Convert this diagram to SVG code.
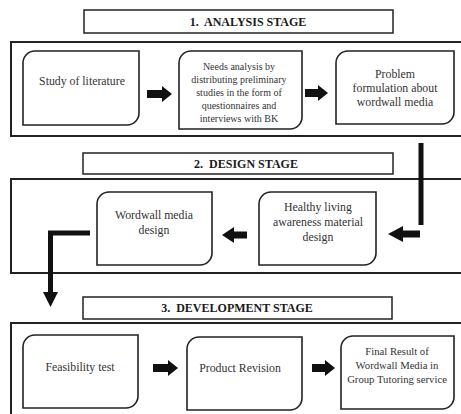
<svg xmlns="http://www.w3.org/2000/svg" width="461" height="414" viewBox="0 0 461 414">
<style>
.frame{fill:none;stroke:#222;stroke-width:2}
.title{fill:#fff;stroke:#222;stroke-width:1.5}
.box{fill:#fff;stroke:#222;stroke-width:1.6}
text{font-family:'Liberation Serif','Times New Roman',serif;text-anchor:middle}
.tt{font-weight:bold;font-size:12px;fill:#1a1a1a}
.t{font-size:11.8px;fill:#333}
.ts{font-size:10px;fill:#333}
.tm{font-size:10.7px;fill:#333}
.ar{fill:#111}
</style>
<rect width="461" height="414" fill="#fff"/>
<g id="stage1">
<rect class="title" x="84" y="10" width="309" height="23"/>
<text class="tt" x="248" y="26" xml:space="preserve">1.  ANALYSIS STAGE</text>
<rect class="frame" x="11" y="42" width="460" height="94"/>
</g>
<g id="stage2">
<rect class="title" x="83" y="153" width="310" height="21"/>
<text class="tt" x="246" y="168" xml:space="preserve">2.  DESIGN STAGE</text>
<rect class="frame" x="11" y="179" width="460" height="94"/>
</g>
<g id="stage3">
<rect class="title" x="83" y="297" width="309" height="22"/>
<text class="tt" x="237" y="312" xml:space="preserve">3.  DEVELOPMENT STAGE</text>
<rect class="frame" x="11" y="323" width="460" height="100"/>
</g>
<g id="n-study">
<path class="box" d="M35 51H139V113A12 12 0 0 1 127 125H23V63A12 12 0 0 1 35 51Z"/>
<text class="t" x="82" y="85">Study of literature</text>
</g>
<g id="n-needs">
<path class="box" d="M191 51H302V117A12 12 0 0 1 290 129H179V63A12 12 0 0 1 191 51Z"/>
<text class="ts" x="239" y="69.5">Needs analysis by</text>
<text class="ts" x="239" y="82.5">distributing preliminary</text>
<text class="ts" x="239" y="95.5">studies in the form of</text>
<text class="ts" x="239" y="108.5">questionnaires and</text>
<text class="ts" x="239" y="121.5">interviews with BK</text>
</g>
<g id="n-problem">
<path class="box" d="M348 51H454V112A12 12 0 0 1 442 124H336V63A12 12 0 0 1 348 51Z"/>
<text class="t" x="395" y="78">Problem</text>
<text class="t" x="395" y="92">formulation about</text>
<text class="t" x="395" y="106">wordwall media</text>
</g>
<g id="n-wordwall">
<path class="box" d="M109 192H212V253A12 12 0 0 1 200 265H97V204A12 12 0 0 1 109 192Z"/>
<text class="t" x="154" y="219">Wordwall media</text>
<text class="t" x="154" y="234">design</text>
</g>
<g id="n-healthy">
<path class="box" d="M271 192H376V253A12 12 0 0 1 364 265H259V204A12 12 0 0 1 271 192Z"/>
<text class="t" x="318" y="211">Healthy living</text>
<text class="t" x="318" y="226">awareness material</text>
<text class="t" x="318" y="241">design</text>
</g>
<g id="n-feasibility">
<path class="box" d="M35 335H138V396A12 12 0 0 1 126 408H23V347A12 12 0 0 1 35 335Z"/>
<text class="t" x="80" y="371">Feasibility test</text>
</g>
<g id="n-revision">
<path class="box" d="M199 337H302V398A12 12 0 0 1 290 410H187V349A12 12 0 0 1 199 337Z"/>
<text class="t" x="240" y="372">Product Revision</text>
</g>
<g id="n-final">
<path class="box" d="M353 336H454V397A12 12 0 0 1 442 409H341V348A12 12 0 0 1 353 336Z"/>
<text class="tm" x="397" y="355">Final Result of</text>
<text class="tm" x="397" y="369">Wordwall Media in</text>
<text class="tm" x="397" y="383">Group Tutoring service</text>
</g>
<g id="connectors">
<path class="ar" d="M147 90H162V86L172 94L162 102V98H147Z"/>
<path class="ar" d="M305 89H318V85L328 93L318 101V97H305Z"/>
<rect class="ar" x="418.5" y="143" width="5" height="82"/>
<path class="ar" d="M420 230.5H403V226L388 234L403 242V237.5H420Z"/>
<path class="ar" d="M247 231.5H234V227L222 235L234 243V238.5H247Z"/>
<path class="ar" d="M90 230.5V235.5H53V292H58L50.5 307L43 292H48V230.5Z"/>
<path class="ar" d="M153 364H168V360L178 368L168 376V372H153Z"/>
<path class="ar" d="M312 364H325V360L335 368L325 376V372H312Z"/>
</g>
</svg>
